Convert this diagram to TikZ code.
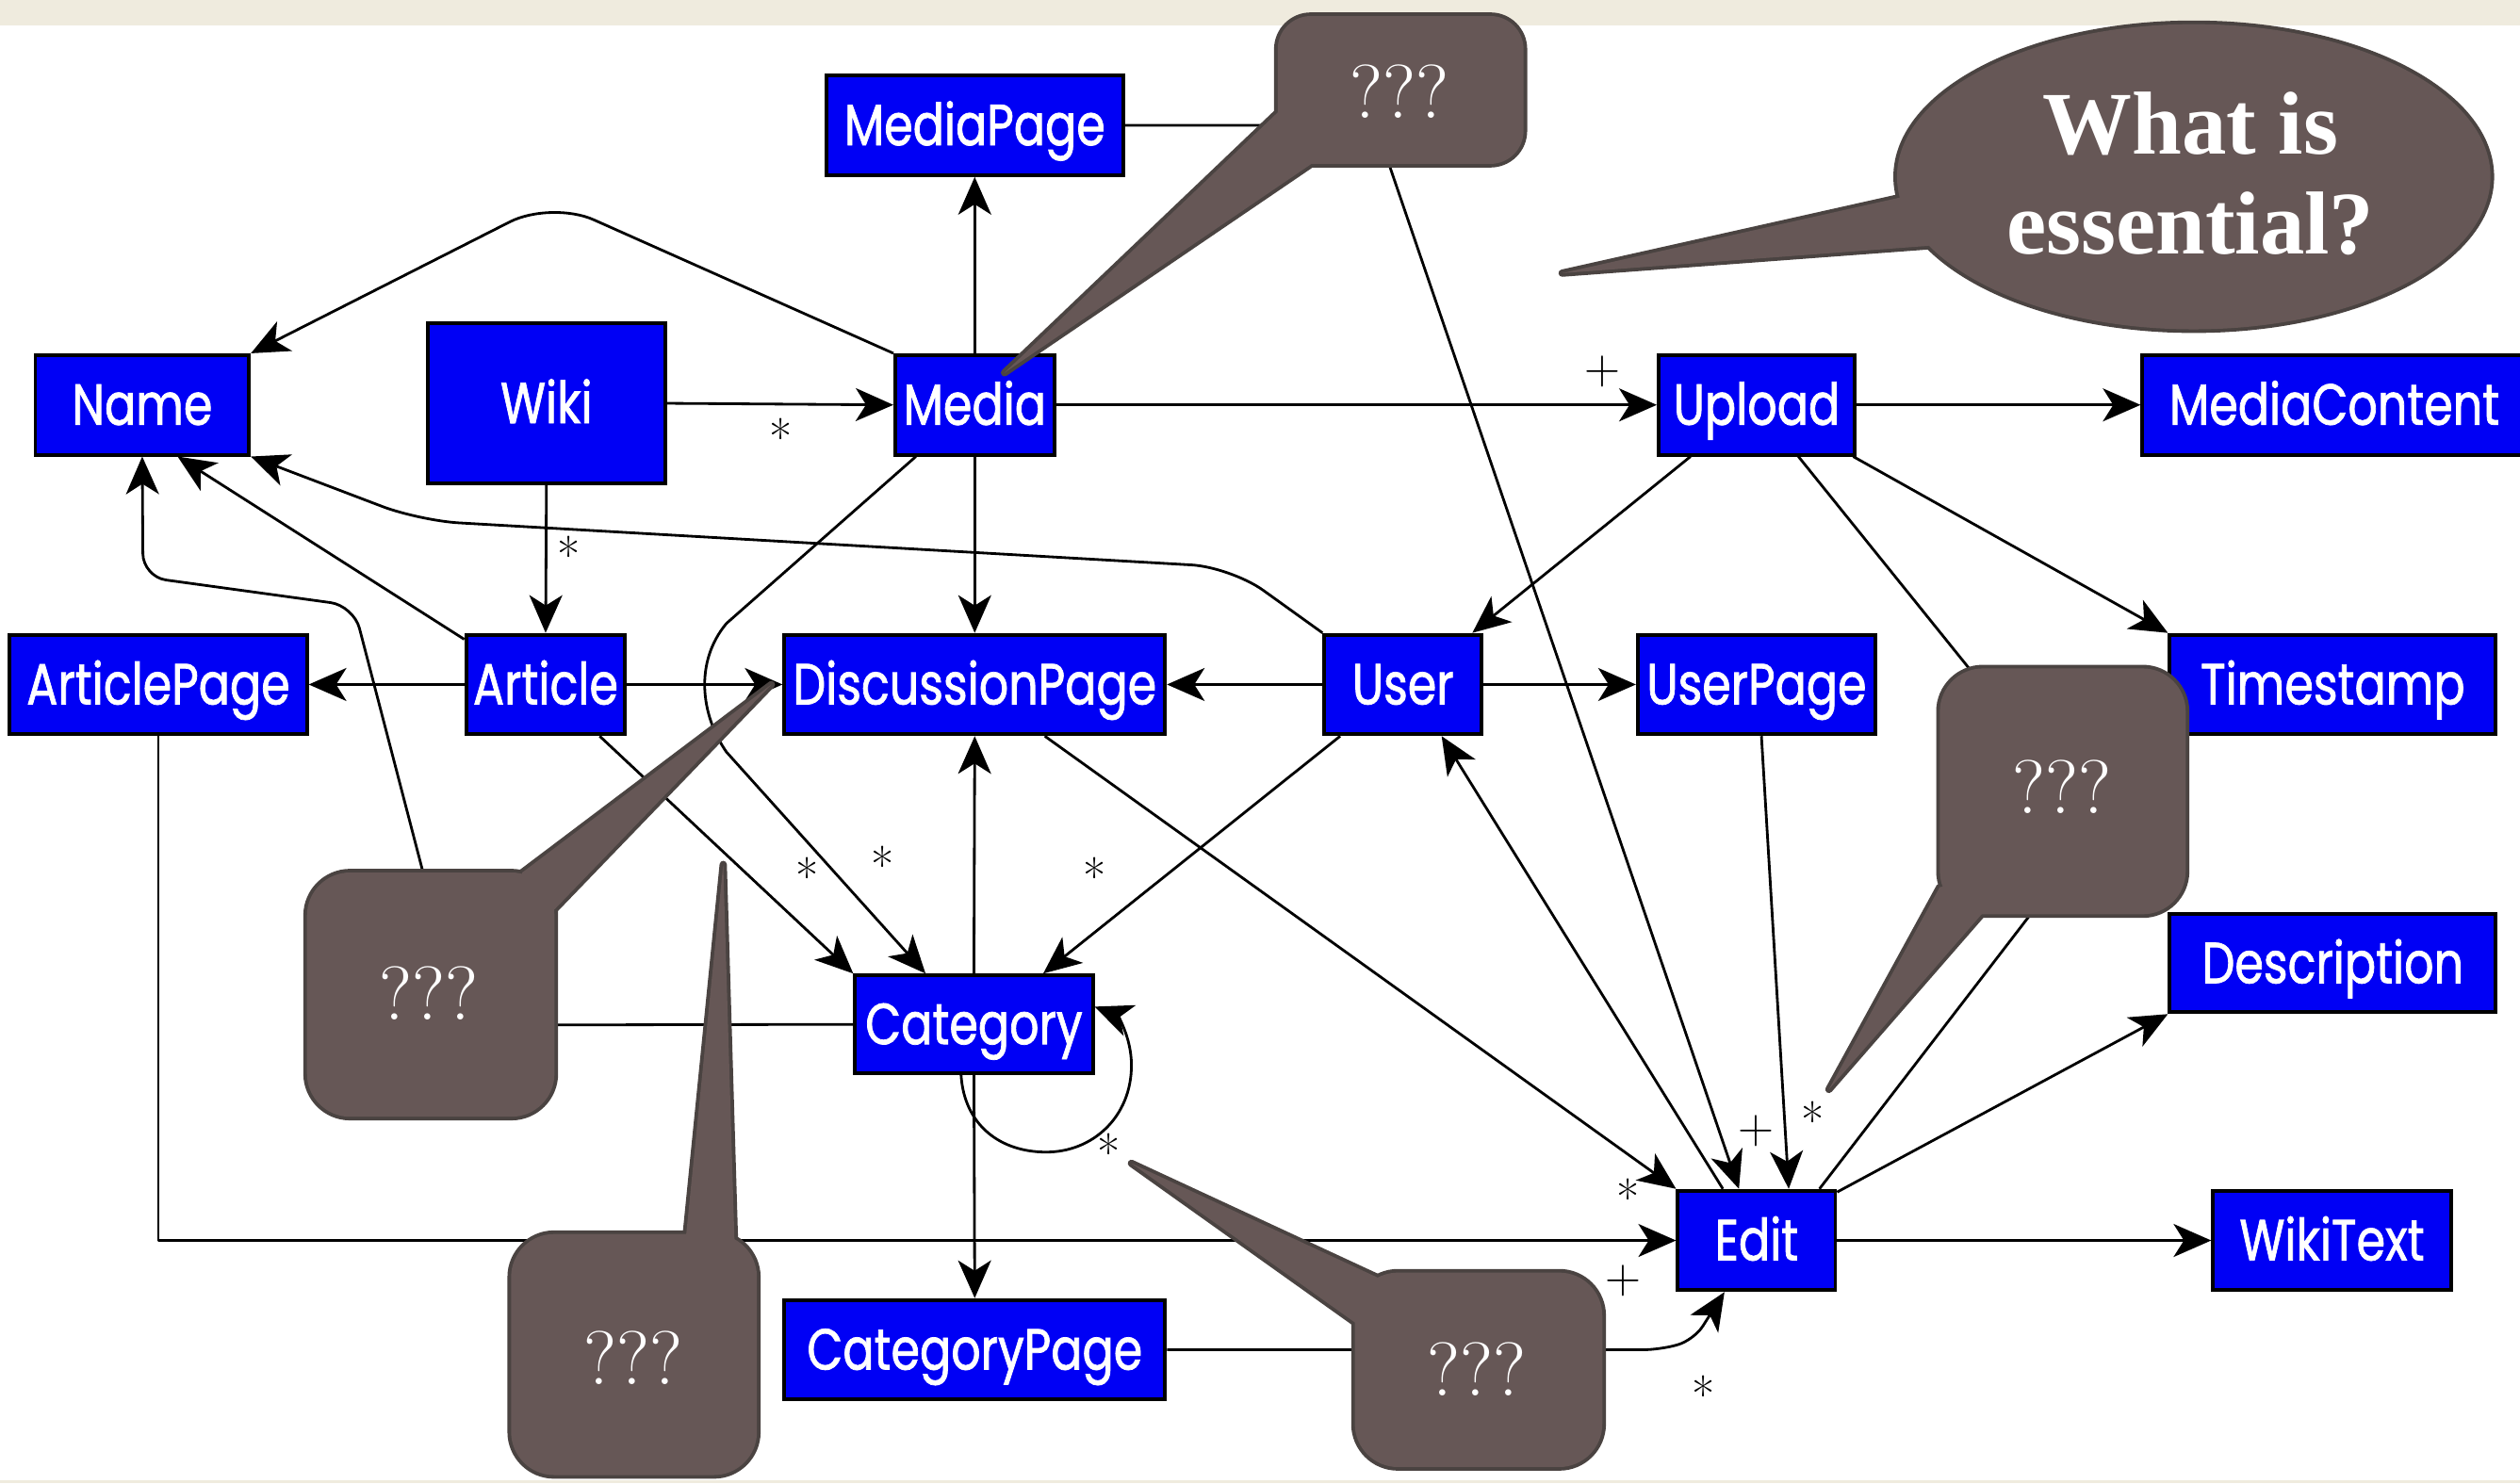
\documentclass[tikz,border=0pt]{standalone}
\usepackage{fontspec}
\newfontfamily\boxfont[FakeStretch=0.8, FakeBold=1.2]{Poppins}
\newfontfamily\serifb{Liberation Serif}
\usetikzlibrary{arrows.meta,calc}
\definecolor{boxblue}{RGB}{0,0,245}
\definecolor{bub}{RGB}{102,87,86}
\definecolor{bubd}{RGB}{74,67,65}
\definecolor{beige}{RGB}{239,235,222}
\newcommand{\mkbox}[6]{\node[box, minimum width={(#4-#2)*0.17054mm}, minimum height={(#5-#3)*0.17054mm}] (#1) at ({(#2+#4)/2},{(#3+#5)/2}) {#6};}
\begin{document}
\begin{tikzpicture}[x=0.017054cm, y=-0.017054cm,
  box/.style={draw=black, line width=1.1pt, fill=boxblue, text=white, inner sep=0pt,
    font=\boxfont\fontsize{17.5}{20}\selectfont, text height=12pt, text depth=0pt},
  conn/.style={line width=0.8pt, line join=round},
  arr/.style={conn, -{Stealth[length=4mm, width=3.5mm, inset=1.1mm]}},
  lab/.style={font=\fontsize{15}{15}\selectfont, inner sep=0pt},
  bubborder/.style={draw=bubd, line width=2.2pt, line join=round},
  bubfill/.style={fill=bub},
  qtext/.style={text=white, font=\fontsize{23}{23}\selectfont, inner sep=0pt}]
\useasboundingbox (0,0) rectangle (1568,923);
\fill[beige] (0,0) rectangle (1568,923);
\fill[white] (0,16) rectangle (1568,921);

% boxes
\mkbox{MediaPage}{514}{47}{699}{109}{MediaPage}
\mkbox{Name}{22}{221}{155}{283}{Name}
\mkbox{Wiki}{266}{201}{414}{301}{Wiki}
\mkbox{Media}{557}{221}{656}{283}{Media}
\mkbox{Upload}{1032}{221}{1154}{283}{Upload}
\mkbox{MediaContent}{1333}{221}{1572}{283}{MediaContent}
\mkbox{ArticlePage}{6}{395}{191}{457}{ArticlePage}
\mkbox{Article}{290}{395}{389}{457}{Article}
\mkbox{DiscussionPage}{488}{395}{725}{457}{DiscussionPage}
\mkbox{User}{824}{395}{922}{457}{User}
\mkbox{UserPage}{1019}{395}{1167}{457}{UserPage}
\mkbox{Timestamp}{1350}{395}{1553}{457}{Timestamp}
\mkbox{Category}{532}{607}{680}{668}{Category}
\mkbox{Description}{1350}{569}{1553}{630}{Description}
\mkbox{Edit}{1044}{741}{1142}{803}{Edit}
\mkbox{WikiText}{1377}{741}{1525}{803}{WikiText}
\mkbox{CategoryPage}{488}{809}{725}{871}{CategoryPage}

% connectors
\draw[arr] (MediaPage.east) -- (856,78) -- ($(Edit.north)+(-11,0)$);
\draw[arr] (Media.north) -- (MediaPage.south);
\draw[arr, rounded corners=14pt] (Media.north west) -- (343,125) -- (Name.north east);
\draw[arr] (Wiki.east) -- (Media.west);
\draw[arr] (Wiki.south) -- (Article.north);
\draw[arr] (Media.east) -- (Upload.west);
\draw[arr] (Upload.east) -- (MediaContent.west);
\draw[arr] (Media.south) -- (DiscussionPage.north);
\draw[arr] ($(Media.south west)+(14,0)$) -- (452,388) .. controls (432,412) and (436,445) .. (452,468) -- ($(Category.north west)+(45,0)$);
\draw[arr] (Article.west) -- (ArticlePage.east);
\draw[arr] (Article.east) -- (DiscussionPage.west);
\draw[arr] ($(Article.north west)+(0,4)$) -- ($(Name.south)+(22,0)$);
\draw[arr] ($(Article.south east)+(-17,0)$) -- (Category.north west);
\draw[arr] (ArticlePage.south) -- (ArticlePage.south |- Edit.west) -- (Edit.west);
\draw[arr, rounded corners=7pt] (Category.west) -- (288,638) -- (220,377) -- (89,359) -- (Name.south);
\draw[arr] ($(DiscussionPage.south east)+(-76,0)$) -- (Edit.north west);
\draw[arr] (Category.north) -- (DiscussionPage.south);
\draw[arr] (Category.south) -- (CategoryPage.north);
\draw[arr] ($(Category.south)+(-8,0)$) .. controls (600,700) and (622,717) .. (651,717) .. controls (680,717) and (704,695) .. (704,663) .. controls (704,645) and (695,632) .. ($(Category.east)+(0,-11)$);
\draw[arr, rounded corners=5pt] (CategoryPage.east) -- (1033,840) -- (1054,834) -- ($(Edit.south)+(-20,0)$);
\draw[arr] (User.west) -- (DiscussionPage.east);
\draw[arr] (User.east) -- (UserPage.west);
\draw[arr, rounded corners=12pt] (User.north west) -- (766,353) -- (261,324) -- (Name.south east);
\draw[arr] ($(User.south west)+(11,0)$) -- ($(Category.north east)+(-32,0)$);
\draw[arr] ($(Upload.south west)+(21,0)$) -- ($(User.north east)+(-7,0)$);
\draw[arr] ($(Upload.south east)+(-2,0)$) -- (Timestamp.north west);
\draw[conn] ($(Upload.south)+(26,0)$) -- (1305,515) -- ($(Edit.north east)+(-11,0)$);
\draw[arr] ($(UserPage.south)+(3,0)$) -- ($(Edit.north)+(20,0)$);
\draw[arr] ($(Edit.north)+(-21,0)$) -- ($(User.south)+(24,0)$);
\draw[arr] ($(Edit.north east)+(0,2)$) -- (Description.south west);
\draw[arr] (Edit.east) -- (WikiText.west);

% labels
\node[lab] (l1) at (486,272) {*};
\node[lab] (l2) at (354,345) {*};
\node[lab] (l3) at (997,231) {+};
\node[lab] (l4) at (502,545) {*};
\node[lab] (l5) at (549,538) {*};
\node[lab] (l6) at (681,545) {*};
\node[lab] (l7) at (690,717) {*};
\node[lab] (l8) at (1013,745) {*};
\node[lab] (l9) at (1093,704) {+};
\node[lab] (l10) at (1128,697) {*};
\node[lab] (l11) at (1010,797) {+};
\node[lab] (l12) at (1060,868) {*};

% callouts: borders
\path[bubborder] (1365,110) ellipse [x radius=3.15cm, y radius=1.62cm];
\path[bubborder] (972,170) -- (1182,123) -- (1230,135) -- (1200,153) -- cycle;
\path[bubborder, rounded corners=10pt] (795,10) rectangle (948,102);
\path[bubborder] (625,232) -- (795,70) -- (830,80) -- (816,102) -- cycle;
\path[bubborder, rounded corners=13pt] (191,543) rectangle (345,695);
\path[bubborder] (480,426) -- (325,543) -- (320,570) -- (345,566) -- cycle;
\path[bubborder, rounded corners=13pt] (318,768) rectangle (471,918);
\path[bubborder] (450,538) -- (427,768) -- (445,790) -- (457,772) -- cycle;
\path[bubborder, rounded corners=13pt] (843,792) rectangle (997,913);
\path[bubborder] (704,724) -- (857,795) -- (870,830) -- (843,823) -- cycle;
\path[bubborder, rounded corners=13pt] (1207,416) rectangle (1360,569);
\path[bubborder] (1138,678) -- (1207,552) -- (1240,550) -- (1233,569) -- cycle;
% callouts: fills
\path[bubfill] (1365,110) ellipse [x radius=3.15cm, y radius=1.62cm];
\path[bubfill] (972,170) -- (1182,123) -- (1230,135) -- (1200,153) -- cycle;
\path[bubfill, rounded corners=10pt] (795,10) rectangle (948,102);
\path[bubfill] (625,232) -- (795,70) -- (830,80) -- (816,102) -- cycle;
\path[bubfill, rounded corners=13pt] (191,543) rectangle (345,695);
\path[bubfill] (480,426) -- (325,543) -- (320,570) -- (345,566) -- cycle;
\path[bubfill, rounded corners=13pt] (318,768) rectangle (471,918);
\path[bubfill] (450,538) -- (427,768) -- (445,790) -- (457,772) -- cycle;
\path[bubfill, rounded corners=13pt] (843,792) rectangle (997,913);
\path[bubfill] (704,724) -- (857,795) -- (870,830) -- (843,823) -- cycle;
\path[bubfill, rounded corners=13pt] (1207,416) rectangle (1360,569);
\path[bubfill] (1138,678) -- (1207,552) -- (1240,550) -- (1233,569) -- cycle;

% callout texts
\node[text=white, align=center, inner sep=0pt, font=\serifb\bfseries\fontsize{27}{30}\selectfont] (q0) at (1363,108) {What is\\essential?};
\node[qtext] (q1) at (871,57) {???};
\node[qtext] (q2) at (267,618) {???};
\node[qtext] (q3) at (394,845) {???};
\node[qtext] (q4) at (919,852) {???};
\node[qtext] (q5) at (1283,490) {???};
\end{tikzpicture}
\end{document}
